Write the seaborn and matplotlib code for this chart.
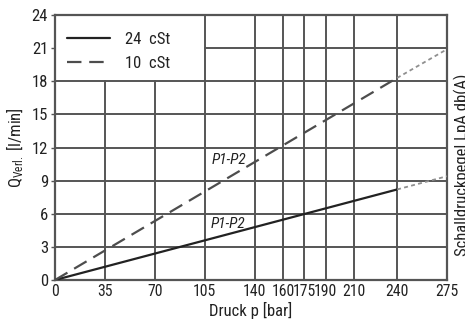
import matplotlib
matplotlib.use("Agg")
import matplotlib.pyplot as plt
from matplotlib import font_manager
from matplotlib.patches import Rectangle
import seaborn as sns
import pandas as pd

# Leakage flow vs. pressure for two oil viscosities
pressure = [0, 240]
q_24cst = [0, 8.2]
q_10cst = [0, 18.3]
# extrapolated range beyond 240 bar
pressure_ext = [240, 275]
q_24cst_ext = [8.2, 9.4]
q_10cst_ext = [18.3, 20.9]

x_ticks = [0, 35, 70, 105, 140, 160, 175, 190, 210, 240, 275]
y_ticks = [0, 3, 6, 9, 12, 15, 18, 21, 24]
legend_labels = ["24  cSt", "10  cSt"]

sns.set_theme(style="white")

def pick_font():
    for name in ["Liberation Sans Narrow", "Roboto Condensed", "Liberation Sans"]:
        try:
            font_manager.findfont(name, fallback_to_default=False)
            return name
        except Exception:
            continue
    return "DejaVu Sans"

fam = pick_font()
plt.rcParams["font.family"] = [fam, "DejaVu Sans"]
plt.rcParams["mathtext.fontset"] = "custom"
plt.rcParams["mathtext.rm"] = fam
plt.rcParams["mathtext.it"] = fam + ":italic"

grid_col = "#555555"
fig = plt.figure(figsize=(4.65, 3.29), dpi=100)
ax = fig.add_axes([55 / 465, 49 / 329, 392 / 465, 265 / 329])

main = pd.DataFrame({"p": pressure * 2,
                     "q": q_24cst + q_10cst,
                     "v": [legend_labels[0]] * 2 + [legend_labels[1]] * 2})
sns.lineplot(data=main[main.v == legend_labels[0]], x="p", y="q", ax=ax,
             color="#222222", lw=1.6, label=legend_labels[0], zorder=3)
sns.lineplot(data=main[main.v == legend_labels[1]], x="p", y="q", ax=ax,
             color="#4d4d4d", lw=1.6, dashes=(6.5, 3.5), label=legend_labels[1],
             zorder=3)
sns.lineplot(x=pressure_ext, y=q_24cst_ext, ax=ax, color="#8f8f8f", lw=1.3,
             dashes=(2.2, 1.8), zorder=3, legend=False)
sns.lineplot(x=pressure_ext, y=q_10cst_ext, ax=ax, color="#8f8f8f", lw=1.3,
             dashes=(2.2, 1.8), zorder=3, legend=False)

ax.set_xlim(0, 275)
ax.set_ylim(0, 24)
ax.set_xticks(x_ticks)
ax.set_yticks(y_ticks)
ax.set_xticklabels([str(t) for t in x_ticks])
ax.set_yticklabels([str(t) for t in y_ticks])
ax.tick_params(axis="x", length=0, pad=3, labelsize=11.3, colors="#222222")
ax.tick_params(axis="y", length=3, width=1, color=grid_col, pad=2,
               labelsize=12, labelcolor="#222222", left=True)
ax.set_axisbelow(True)
ax.grid(True, color=grid_col, lw=1.4)
for s in ax.spines.values():
    s.set_color(grid_col)
    s.set_linewidth(1.6)

# blank cell block behind the legend
ax.add_patch(Rectangle((0.8, 18.12), 103.6, 5.78, facecolor="white",
                       edgecolor="none", zorder=1))

leg = ax.legend(loc="upper left", bbox_to_anchor=(0.0, 0.981), frameon=False,
                fontsize=12, handlelength=2.6, handletextpad=0.9,
                labelspacing=0.55, borderaxespad=0.3)
for t in leg.get_texts():
    t.set_color("#222222")

ax.text(122, 10.9, "P1-P2", style="italic", fontsize=11, ha="center",
        va="center", color="#222222", zorder=4)
ax.text(121, 5.1, "P1-P2", style="italic", fontsize=11, ha="center",
        va="center", color="#222222", zorder=4)

ax.set_xlabel("Druck p [bar]", fontsize=12, color="#222222", labelpad=2)
ax.set_ylabel(r"Q$_{\mathrm{Verl.}}$ [l/min]", fontsize=12, color="#222222",
              labelpad=4)
fig.text(462 / 465, 0.50, "Schalldruckpegel LpA db(A)", rotation=90,
         ha="center", va="center", fontsize=12, color="#222222")

fig.savefig("out.png", dpi=100)
